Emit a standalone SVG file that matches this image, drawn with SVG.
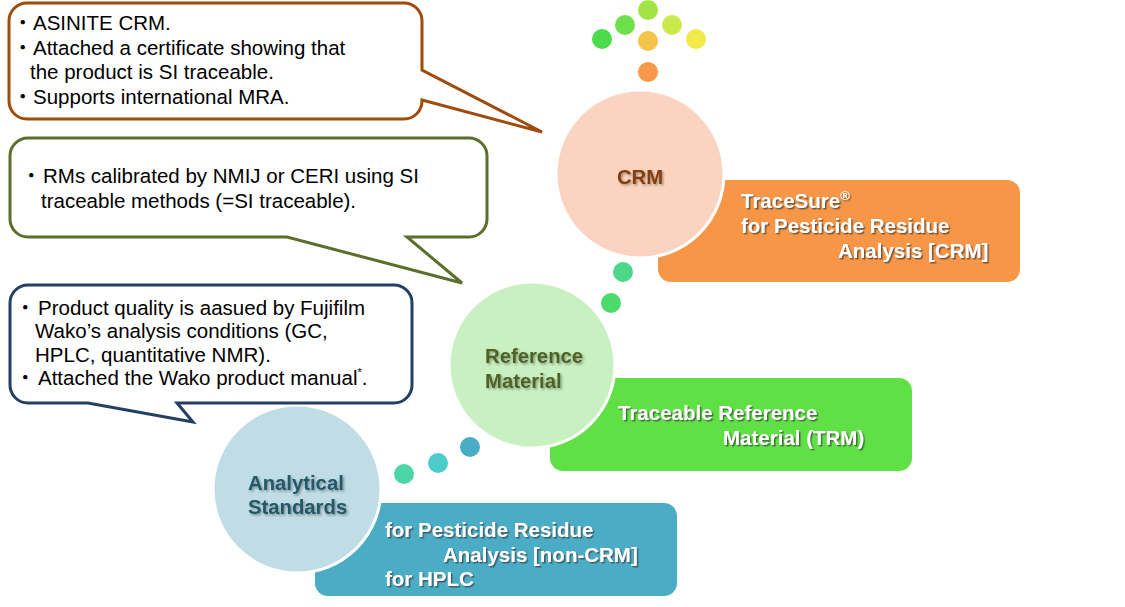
<svg xmlns="http://www.w3.org/2000/svg" width="1125" height="607" viewBox="0 0 1125 607">
<defs>
<filter id="ts" x="-10%" y="-20%" width="130%" height="160%">
<feDropShadow dx="1.5" dy="1.5" stdDeviation="0.7" flood-color="#3a3a3a" flood-opacity="0.7"/>
</filter>
<filter id="cs" x="-10%" y="-20%" width="130%" height="160%">
<feDropShadow dx="1.5" dy="1.5" stdDeviation="0.8" flood-color="#000" flood-opacity="0.35"/>
</filter>
<style>
.call{fill:#fff;stroke-width:3;stroke-linejoin:miter}
.ct{font-family:"Liberation Sans","Noto Sans CJK JP",sans-serif;font-size:20.5px;fill:#000}
.bt{font-family:"Liberation Sans",Arial,sans-serif;font-size:20.5px;font-weight:bold;fill:#fff;filter:url(#ts)}
.nt{font-family:"Liberation Sans",Arial,sans-serif;font-size:20.3px;font-weight:bold;filter:url(#cs)}
.circ{stroke:#fff;stroke-width:3}
</style>
</defs>
<rect width="1125" height="607" fill="#fff"/>

<g id="box-crm">
<rect x="658" y="180" width="362" height="102" rx="13" fill="#F79646"/>
<text class="bt"><tspan x="741" y="208">TraceSure</tspan><tspan font-size="13" dy="-8">®</tspan><tspan x="741" y="233">for Pesticide Residue</tspan><tspan x="838" y="258">Analysis [CRM]</tspan></text>
</g>
<g id="box-trm">
<rect x="550" y="378" width="362" height="93" rx="13" fill="#5FE146"/>
<text class="bt"><tspan x="618" y="420">Traceable Reference</tspan><tspan x="723" y="445">Material (TRM)</tspan></text>
</g>
<g id="box-as">
<rect x="315" y="503" width="362" height="93" rx="13" fill="#4BACC6"/>
<text class="bt"><tspan x="385" y="537">for Pesticide Residue</tspan><tspan x="443" y="562">Analysis [non-CRM]</tspan><tspan x="385" y="586">for HPLC</tspan></text>
</g>

<g id="connectors">
<circle cx="602" cy="39" r="10" fill="#4CDB4C"/>
<circle cx="625" cy="25" r="10" fill="#6DE04A"/>
<circle cx="648" cy="10" r="10" fill="#A3E445"/>
<circle cx="672" cy="25" r="10" fill="#C9EA4A"/>
<circle cx="696" cy="39" r="10" fill="#F2EA4A"/>
<circle cx="648" cy="41" r="10" fill="#F4C34A"/>
<circle cx="648" cy="72" r="10" fill="#F7984A"/>
<circle cx="623" cy="272" r="10" fill="#4CD68A"/>
<circle cx="611" cy="303" r="10" fill="#4CDB6A"/>
<circle cx="470" cy="447" r="10" fill="#4BACC6"/>
<circle cx="438" cy="463" r="10" fill="#4CCCC8"/>
<circle cx="404" cy="474" r="10" fill="#4CD6A8"/>
</g>

<g id="node-crm">
<circle class="circ" cx="640" cy="174" r="84" fill="#FAD4C0"/>
<text class="nt" x="640" y="184" text-anchor="middle" fill="#843C0C">CRM</text>
</g>
<g id="node-rm">
<circle class="circ" cx="532" cy="365" r="83" fill="#C9F0C1"/>
<text class="nt" fill="#4F6228"><tspan x="485" y="363">Reference</tspan><tspan x="485" y="388">Material</tspan></text>
</g>
<g id="node-as">
<circle class="circ" cx="297" cy="489" r="84" fill="#C0DCE5"/>
<text class="nt" fill="#215967"><tspan x="248" y="490">Analytical</tspan><tspan x="248" y="514">Standards</tspan></text>
</g>

<g id="callout-crm">
<path class="call" stroke="#9E4B0C" d="M27,3 H404 A18,18 0 0 1 422,21 V70 L542,132 L422,100 V101 A18,18 0 0 1 404,119 H27 A18,18 0 0 1 9,101 V21 A18,18 0 0 1 27,3 Z"/>
<text class="ct"><tspan x="12.5" y="30">・</tspan><tspan x="33" y="30">ASINITE CRM.</tspan><tspan x="12.5" y="55">・</tspan><tspan x="33" y="55">Attached a certificate showing that</tspan><tspan x="30" y="79">the product is SI traceable.</tspan><tspan x="12.5" y="104">・</tspan><tspan x="33" y="104">Supports international MRA.</tspan></text>
</g>
<g id="callout-rm">
<path class="call" stroke="#5B6F2C" d="M28,138 H469 A18,18 0 0 1 487,156 V219 A18,18 0 0 1 469,237 H407 L462,283 L287,237 H28 A18,18 0 0 1 10,219 V156 A18,18 0 0 1 28,138 Z"/>
<text class="ct"><tspan x="21" y="183">・</tspan><tspan x="43" y="183">RMs calibrated by NMIJ or CERI using SI</tspan><tspan x="41" y="208">traceable methods (=SI traceable).</tspan></text>
</g>
<g id="callout-as">
<path class="call" stroke="#233F63" d="M28,285 H394 A18,18 0 0 1 412,303 V385 A18,18 0 0 1 394,403 H177 L193,422 L88,403 H28 A18,18 0 0 1 10,385 V303 A18,18 0 0 1 28,285 Z"/>
<text class="ct"><tspan x="15" y="315">・</tspan><tspan x="38" y="315">Product quality is aasued by Fujifilm</tspan><tspan x="35" y="338">Wako’s analysis conditions (GC,</tspan><tspan x="35" y="362">HPLC, quantitative NMR).</tspan><tspan x="15" y="385">・</tspan><tspan x="38" y="385">Attached the Wako product manual</tspan><tspan font-size="11" dy="-9">*</tspan><tspan dy="9">.</tspan></text>
</g>
</svg>
